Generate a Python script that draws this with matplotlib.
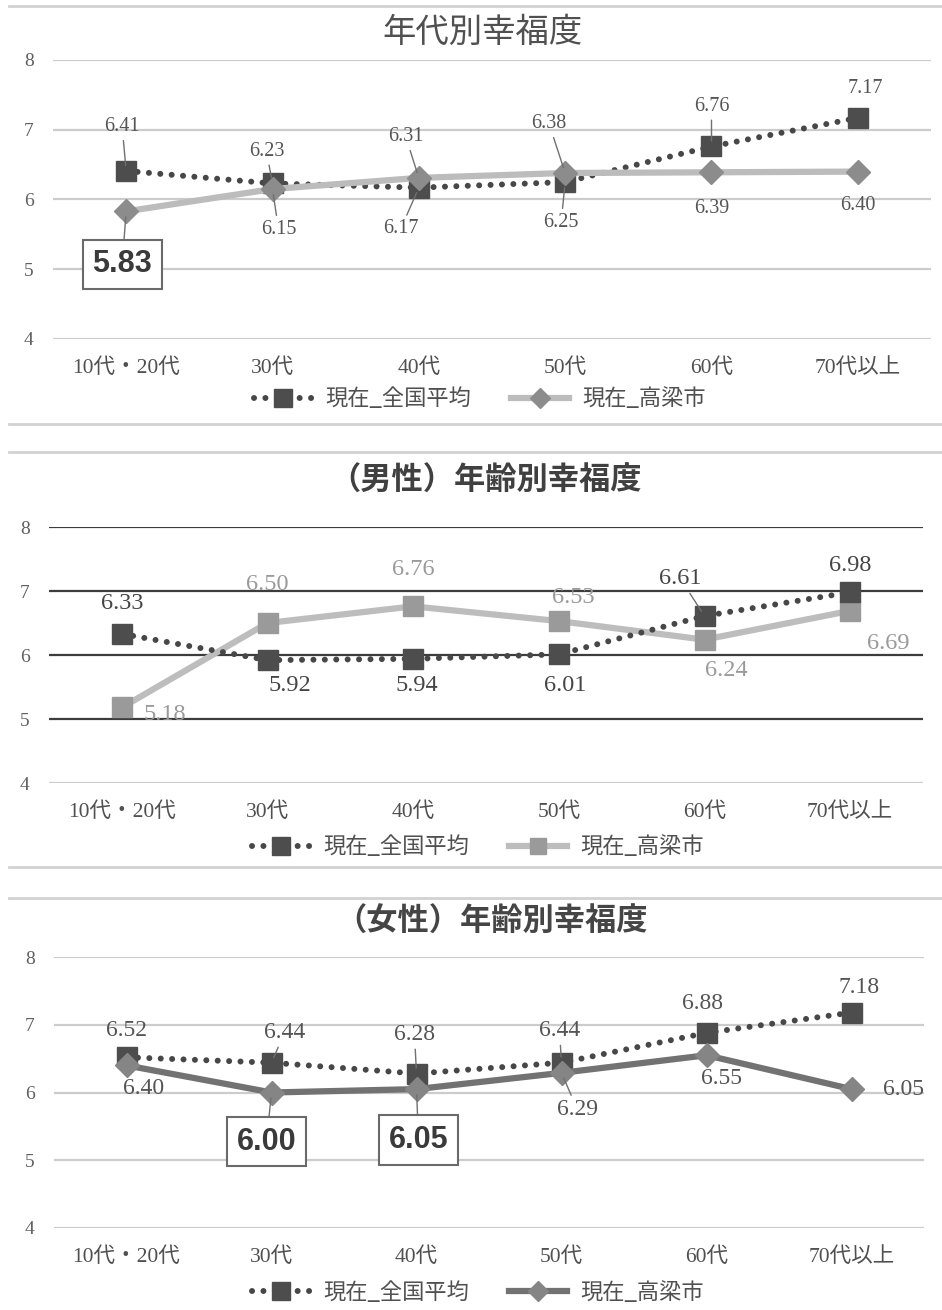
import matplotlib
matplotlib.use('Agg')
import matplotlib.pyplot as plt
from matplotlib.lines import Line2D

# categories and values
categories = ['10代・20代', '30代', '40代', '50代', '60代', '70代以上']
yticks = [4, 5, 6, 7, 8]

all_nat = [6.41, 6.23, 6.17, 6.25, 6.76, 7.17]
all_tak = [5.83, 6.15, 6.31, 6.38, 6.39, 6.40]

male_nat = [6.33, 5.92, 5.94, 6.01, 6.61, 6.98]
male_tak = [5.18, 6.50, 6.76, 6.53, 6.24, 6.69]

female_nat = [6.52, 6.44, 6.28, 6.44, 6.88, 7.18]
female_tak = [6.40, 6.00, 6.05, 6.29, 6.55, 6.05]

legend_names = ['現在_全国平均', '現在_高梁市']
titles = ['年代別幸福度', '（男性）年齢別幸福度', '（女性）年齢別幸福度']

JP = ['Noto Sans CJK JP', 'DejaVu Sans']
SERIF_JP = ['Liberation Serif', 'Noto Sans CJK JP']
NUM = ['Liberation Serif']

W, H = 942, 1310
fig = plt.figure(figsize=(W / 100, H / 100), dpi=100)

DOT = (0, (0.01, 1.9))


def fx(px):
    return px / W


def fy(py):
    return 1 - py / H


def label(ax, i, v, off, color, size, line=False):
    kw = {}
    if line:
        kw['arrowprops'] = dict(arrowstyle='-', color='#707070', lw=1, shrinkA=1, shrinkB=4)
    ax.annotate('%.2f' % v, xy=(i, v), xytext=off, textcoords='offset pixels',
                ha='center', va='center', fontsize=size, color=color,
                family=NUM, zorder=6, **kw)


def boxed(ax, i, v, off):
    ax.annotate('%.2f' % v, xy=(i, v), xytext=off, textcoords='offset pixels',
                ha='center', va='center', fontsize=22, fontweight='bold',
                color='#3a3a3a', family=['Liberation Sans'], zorder=7,
                bbox=dict(boxstyle='square,pad=0.32', fc='white', ec='#6a6a6a', lw=1.5),
                arrowprops=dict(arrowstyle='-', color='#707070', lw=1, shrinkA=0, shrinkB=4))


def setup(ax, grid_colors, xlab_pad):
    ax.set_xlim(-0.5, 5.5)
    ax.set_ylim(4, 8)
    for v, c in zip(yticks, grid_colors):
        ax.axhline(v, color=c, lw=1.6, zorder=0)
    ax.set_yticks(yticks)
    ax.set_yticklabels([str(t) for t in yticks], family=NUM, fontsize=14, color='#606060')
    ax.set_xticks(range(len(categories)))
    ax.set_xticklabels(categories, family=SERIF_JP, fontsize=15.5, color='#505050')
    ax.tick_params(axis='y', length=0, pad=14)
    ax.tick_params(axis='x', length=0, pad=xlab_pad)
    for s in ax.spines.values():
        s.set_visible(False)
    ax.patch.set_alpha(0)


def plot_nat(ax, vals, z):
    ax.plot(range(len(vals)), vals, color='#474747', lw=4.3, linestyle=DOT,
            dash_capstyle='round', marker='s', markersize=14, markerfacecolor='#4d4d4d',
            markeredgecolor='#4d4d4d', zorder=z)


def nat_handle():
    return Line2D([], [], color='#474747', lw=4.3, linestyle=DOT, dash_capstyle='round',
                  marker='s', markersize=13, markerfacecolor='#4d4d4d', markeredgecolor='#4d4d4d')


def legend(ax, h1, h2, cx, cy):
    ax.legend([h1, h2], legend_names, loc='center', bbox_to_anchor=(fx(cx), fy(cy)),
              bbox_transform=fig.transFigure, ncol=2, frameon=False,
              prop={'family': JP, 'size': 16}, labelcolor='#505050',
              handlelength=2.6, handletextpad=0.6, columnspacing=1.8)


# separators
for py in [6, 424, 452, 867, 898]:
    fig.add_artist(Line2D([0.01, 1], [fy(py), fy(py)], transform=fig.transFigure,
                          color='#d2d2d2', lw=2))

# ---- panel 1 ----
ax1 = fig.add_axes([fx(53), fy(339), fx(878), 279 / H])
light = ['#cccccc'] * 5
setup(ax1, light, 14)
plot_nat(ax1, all_nat, 3)
ax1.plot(range(6), all_tak, color='#bcbcbc', lw=4.5, marker='D', markersize=12,
         markerfacecolor='#8c8c8c', markeredgecolor='#8c8c8c', zorder=4)
fig.text(fx(482), fy(32), titles[0], ha='center', va='center', fontsize=24,
         family=JP, color='#505050')
nat_off = [(-4, 44), (-6, 32), (-18, -41), (-4, -40), (0, 40), (8, 29)]
nat_line = [True, True, True, True, True, False]
for i, v in enumerate(all_nat):
    label(ax1, i, v, nat_off[i], '#555555', 14.5, nat_line[i])
tak_off = [None, (6, -40), (-13, 41), (-16, 49), (0, -36), (0, -34)]
tak_line = [False, True, True, True, False, False]
for i, v in enumerate(all_tak):
    if i == 0:
        boxed(ax1, i, v, (-4, -53))
    else:
        label(ax1, i, v, tak_off[i], '#555555', 14.5, tak_line[i])
h2 = Line2D([], [], color='#bcbcbc', lw=4.5, marker='D', markersize=10,
            markerfacecolor='#8c8c8c', markeredgecolor='#8c8c8c')
legend(ax1, nat_handle(), h2, 480, 399)

# ---- panel 2 ----
ax2 = fig.add_axes([fx(49), fy(783), fx(874), 256 / H])
setup(ax2, ['#cccccc', '#3c3c3c', '#3c3c3c', '#3c3c3c', '#3c3c3c'], 14)
ax2.plot(range(6), male_tak, color='#bdbdbd', lw=4.5, marker='s', markersize=14,
         markerfacecolor='#9a9a9a', markeredgecolor='#9a9a9a', zorder=3)
plot_nat(ax2, male_nat, 4)
fig.text(fx(486), fy(481), titles[1], ha='center', va='center', fontsize=22.5,
         fontweight='bold', family=JP, color='#404040')
nat_off = [(0, 30), (22, -25), (4, -27), (6, -31), (-24, 37), (0, 27)]
for i, v in enumerate(male_nat):
    label(ax2, i, v, nat_off[i], '#454545', 17.5, i == 4)
tak_off = [(43, -7), (0, 38), (0, 37), (14, 24), (22, -31), (38, -33)]
for i, v in enumerate(male_tak):
    label(ax2, i, v, tak_off[i], '#9a9a9a', 17.5)
h2 = Line2D([], [], color='#bdbdbd', lw=4.5, marker='s', markersize=11,
            markerfacecolor='#9a9a9a', markeredgecolor='#9a9a9a')
legend(ax2, nat_handle(), h2, 478, 847)

# ---- panel 3 ----
ax3 = fig.add_axes([fx(54), fy(1228), fx(870), 271 / H])
setup(ax3, light, 14)
plot_nat(ax3, female_nat, 3)
ax3.plot(range(6), female_tak, color='#727272', lw=4.5, marker='D', markersize=12,
         markerfacecolor='#858585', markeredgecolor='#858585', zorder=4)
fig.text(fx(492), fy(922), titles[2], ha='center', va='center', fontsize=22.5,
         fontweight='semibold', family=JP, color='#454545')
nat_off = [(0, 27), (13, 30), (-2, 39), (-2, 32), (-4, 29), (8, 25)]
nat_line = [False, True, True, True, False, False]
for i, v in enumerate(female_nat):
    label(ax3, i, v, nat_off[i], '#555555', 17, nat_line[i])
tak_off = [(17, -23), (-5, -49), (2, -51), (16, -37), (15, -23), (52, 0)]
for i, v in enumerate(female_tak):
    if i in (1, 2):
        boxed(ax3, i, v, tak_off[i])
    else:
        label(ax3, i, v, tak_off[i], '#555555', 17, i == 3)
h2 = Line2D([], [], color='#727272', lw=4.5, marker='D', markersize=10,
            markerfacecolor='#858585', markeredgecolor='#858585')
legend(ax3, nat_handle(), h2, 478, 1292)

fig.savefig('out.png', dpi=100)
